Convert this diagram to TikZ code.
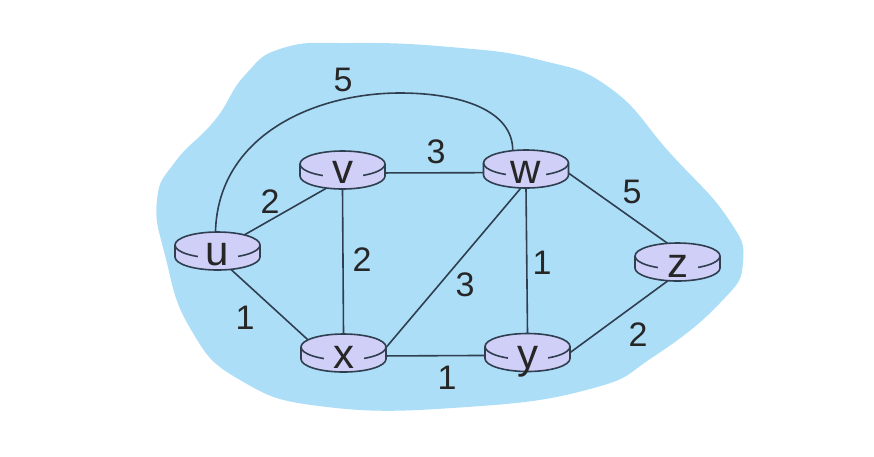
\documentclass[tikz,border=0pt]{standalone}
\usepackage{fontspec}
\setmainfont{Liberation Sans}
\usetikzlibrary{shapes.geometric,calc}
\definecolor{cloudblue}{HTML}{ADDEF8}
\definecolor{routerfill}{HTML}{CFCFF7}
\definecolor{linkgray}{HTML}{2F3F4F}
\tikzset{
  router/.style={ellipse,inner sep=0pt,minimum width=85pt,minimum height=38pt},
  routerbody/.style={draw=linkgray,fill=routerfill,line width=1.6pt},
  routername/.style={fill=routerfill,inner sep=0pt,minimum width=40pt,text height=18pt,text depth=0pt,
    anchor=base,font=\fontsize{42}{42}\selectfont,text=black!85},
  link/.style={draw=linkgray,line width=1.6pt},
  cost/.style={font=\fontsize{34}{34}\selectfont,text=black!85,inner sep=0pt}
}

\begin{document}
\begin{tikzpicture}[x=1pt,y=-1pt]

\useasboundingbox (0,0) rectangle (874,456);

\fill[cloudblue] plot[smooth cycle,tension=0.8] coordinates {(283,48) (350,43) (450,47) (540,60) (610,88) (670,153) (727,217) (743,262) (720,303) (653,357) (590,389) (467,407) (327,407) (240,380) (190,328) (165,255) (157,200) (175,162) (215,120) (245,75)};

\node[router] (u) at (217.5,251) {};
\node[router] (v) at (342.5,170) {};
\node[router] (w) at (526,169) {};
\node[router] (x) at (343.5,353) {};
\node[router] (y) at (527.5,352.5) {};
\node[router] (z) at (677.5,262) {};

\draw[link] (u.31) -- (v.-131);
\draw[link] (u.-54) -- (x.161);
\draw[link] (v.-4) -- (w.-175);
\draw[link] (v.south) -- (x.north);
\draw[link] (w.-105) -- (x.6);
\draw[link] (w.south) -- (y.north);
\draw[link] (w.-5) -- (z.118);
\draw[link] (x.-4) -- (y.184);
\draw[link] (y.east) -- (z.-117);
\draw[link] (u.96) .. controls (218,135) and (315,93) .. (400,93) .. controls (460,93) and (513,110) .. (w.126);

\foreach \r in {u,v,w,x,y,z} {
  \draw[routerbody] ($(\r.center)+(-42.5,-6)$) arc[start angle=180,end angle=0,x radius=42.5pt,y radius=13pt]
    -- ++(0,12) arc[start angle=0,end angle=-180,x radius=42.5pt,y radius=13pt] -- cycle;
  \draw[routerbody,fill=none] ($(\r.center)+(-42.5,-6)$) arc[start angle=180,end angle=360,x radius=42.5pt,y radius=13pt];
}

\node[routername] (ulabel) at (217.5,265) {u};
\node[routername] (vlabel) at (342.5,183) {v};
\node[routername] (wlabel) at (526,183) {w};
\node[routername] (xlabel) at (343.5,368) {x};
\node[routername] (ylabel) at (527.5,368) {y};
\node[routername] (zlabel) at (677.5,277) {z};

\node[cost] (c5a) at (343,80) {5};
\node[cost] (c2a) at (270,202) {2};
\node[cost] (c3a) at (436,152) {3};
\node[cost] (c5b) at (632,192) {5};
\node[cost] (c2b) at (362,260) {2};
\node[cost] (c1a) at (542,263) {1};
\node[cost] (c3b) at (465,285) {3};
\node[cost] (c1b) at (245,318) {1};
\node[cost] (c1c) at (447,378) {1};
\node[cost] (c2c) at (638,335) {2};

\end{tikzpicture}
\end{document}
